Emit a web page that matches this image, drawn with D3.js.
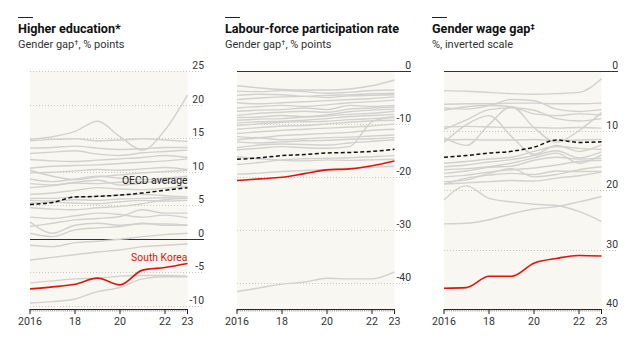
<!DOCTYPE html>
<html><head><meta charset="utf-8">
<script src="https://cdn.jsdelivr.net/npm/d3@7"></script>
<style>
body{margin:0;background:#fff}
svg{display:block;font-family:Roboto,"Noto Sans",sans-serif}
</style>
</head><body>
<svg id="chart" width="640" height="345"></svg>
<script>
// ---------------- DATA ----------------
const years = [2016, 2017, 2018, 2019, 2020, 2021, 2022, 2023];
const xTickYears = [2016, 2018, 2020, 2022, 2023];
const xTickLabels = ["2016", "18", "20", "22", "23"];

const titles = ["Higher education*", "Labour-force participation rate", "Gender wage gap"];
const subtitles = ["Gender gap", "Gender gap", "%, inverted scale"];

// Panel 1: Higher education, gender gap, % points
const eduTicks = [25, 20, 15, 10, 5, 0, -5, -10];
const eduKorea = [-7.5, -7.2, -6.8, -5.9, -6.9, -4.7, -4.3, -3.7];
const eduOecd = [5.1, 5.4, 6.2, 6.3, 6.5, 6.8, 7.2, 7.6];
const eduGrey = [
  [14.8, 15.2, 16.0, 17.5, 15.2, 13.2, 16.2, 21.4],
  [14.6, 14.8, 14.9, 14.6, 14.7, 14.9, 14.7, 14.5],
  [13.5, 13.6, 13.8, 13.5, 13.3, 13.4, 13.6, 13.6],
  [12.7, 12.9, 13.1, 12.6, 12.4, 12.8, 13.0, 13.2],
  [11.8, 11.6, 11.5, 11.7, 11.9, 12.1, 12.4, 12.1],
  [10.5, 10.8, 10.9, 11.0, 11.2, 11.4, 11.6, 11.9],
  [9.8, 9.9, 10.1, 10.3, 10.2, 10.4, 10.6, 10.3],
  [10.2, 9.3, 8.8, 9.2, 9.5, 9.8, 10.0, 10.2],
  [8.9, 8.5, 8.9, 9.3, 9.0, 8.8, 9.0, 9.3],
  [8.2, 8.0, 8.3, 8.2, 8.4, 8.5, 8.4, 8.3],
  [7.6, 7.9, 8.4, 8.7, 8.0, 8.3, 8.9, 9.0],
  [6.6, 6.8, 7.2, 7.6, 7.4, 7.3, 7.5, 7.8],
  [6.0, 6.0, 6.2, 6.3, 6.5, 6.6, 6.4, 6.2],
  [5.7, 5.6, 5.8, 5.7, 5.9, 6.0, 6.1, 6.0],
  [5.3, 5.4, 5.3, 5.2, 5.5, 5.7, 5.6, 5.7],
  [4.6, 4.4, 4.3, 4.6, 4.8, 5.2, 5.8, 6.0],
  [3.2, 3.0, 3.4, 3.8, 3.6, 3.2, 3.5, 3.1],
  [2.5, 0.8, 2.0, 2.3, 2.0, 2.2, 2.2, 2.0],
  [1.8, 2.3, 2.8, 3.0, 3.3, 4.3, 3.8, 3.8],
  [0.8, 0.3, 1.3, 1.6, 1.8, 2.3, 2.0, 2.0],
  [-1.0, -1.2, -0.6, -0.4, -0.1, 0.3, 0.6, 0.8],
  [-3.2, -2.8, -2.4, -2.0, -1.7, -1.2, -1.0, -0.8],
  [-6.6, -6.3, -6.0, -5.9, -5.6, -5.5, -5.5, -5.6],
  [-9.6, -9.4, -9.0, -7.9, -7.3, -6.0, -5.7, -5.7]
];

// Panel 2: Labour-force participation rate, gender gap, % points
const labTicks = [0, -10, -20, -30, -40];
const labKorea = [-20.7, -20.4, -20.1, -19.4, -18.7, -18.5, -17.9, -17.0];
const labOecd = [-16.7, -16.4, -16.0, -15.8, -15.5, -15.4, -15.2, -14.8];
const labGrey = [
  [-2.8, -3.2, -3.5, -3.6, -3.6, -3.4, -2.8, -1.7],
  [-3.8, -3.9, -3.7, -3.9, -4.2, -4.0, -3.7, -3.6],
  [-4.6, -4.4, -4.5, -4.8, -4.6, -4.5, -4.3, -4.2],
  [-5.4, -5.1, -4.9, -4.8, -5.0, -4.7, -4.6, -4.5],
  [-6.0, -6.2, -6.0, -5.8, -5.6, -5.4, -5.2, -4.9],
  [-7.0, -6.7, -6.5, -6.7, -6.4, -6.0, -5.8, -5.5],
  [-7.6, -7.4, -7.3, -7.0, -7.3, -6.5, -6.7, -6.5],
  [-8.4, -8.0, -7.8, -7.6, -7.8, -7.2, -7.0, -6.8],
  [-8.8, -8.7, -8.4, -8.6, -8.3, -7.7, -7.4, -7.2],
  [-9.3, -9.1, -9.0, -8.7, -8.5, -8.2, -8.0, -7.6],
  [-9.8, -9.6, -9.5, -9.3, -9.0, -8.6, -8.4, -8.2],
  [-10.3, -10.0, -9.7, -9.6, -9.5, -9.2, -9.0, -8.8],
  [-11.0, -10.7, -10.4, -10.3, -10.0, -9.7, -9.4, -9.3],
  [-11.8, -11.5, -11.2, -11.0, -10.8, -10.6, -10.4, -10.0],
  [-12.4, -12.6, -12.2, -12.0, -11.8, -11.6, -11.2, -11.0],
  [-13.0, -12.7, -13.0, -12.8, -12.6, -12.5, -12.3, -12.1],
  [-13.4, -13.6, -13.4, -13.2, -13.1, -12.9, -12.8, -12.6],
  [-14.9, -14.6, -14.3, -14.5, -14.6, -14.3, -9.6, -8.6],
  [-14.5, -14.0, -13.8, -13.9, -14.0, -13.6, -13.3, -13.0],
  [-16.2, -16.6, -16.9, -17.0, -16.8, -16.9, -16.8, -16.7],
  [-17.7, -17.3, -16.8, -16.6, -16.5, -16.4, -16.2, -16.0],
  [-19.5, -19.3, -19.0, -18.8, -18.6, -18.4, -18.2, -18.0],
  [-41.7, -41.0, -40.3, -39.9, -39.2, -39.3, -39.3, -38.0]
];

// Panel 3: Gender wage gap, %, inverted scale
const wageTicks = [0, 10, 20, 30, 40];
const wageKorea = [36.5, 36.4, 34.5, 34.5, 32.3, 31.5, 31.0, 31.1];
const wageOecd = [14.5, 14.2, 13.8, 13.5, 12.8, 11.6, 12.0, 11.9];
const wageGrey = [
  [3.3, 3.4, 3.6, 3.8, 3.9, 3.8, 3.6, 1.3],
  [5.6, 5.5, 5.5, 5.4, 5.4, 5.5, 5.5, 5.4],
  [6.2, 6.4, 5.8, 4.8, 5.0, 6.4, 6.8, 6.5],
  [6.6, 6.0, 5.8, 6.0, 7.2, 7.5, 7.2, 7.4],
  [9.4, 9.3, 9.4, 9.5, 9.5, 9.6, 9.5, 9.6],
  [9.8, 8.2, 6.5, 6.2, 6.6, 8.0, 8.4, 8.0],
  [11.6, 11.5, 11.6, 11.6, 11.5, 11.7, 11.6, 11.5],
  [11.2, 12.5, 9.0, 6.0, 9.5, 12.0, 10.0, 7.0],
  [12.0, 9.0, 7.5, 11.0, 14.0, 12.5, 13.5, 12.4],
  [15.5, 15.2, 14.8, 14.5, 13.5, 12.7, 13.0, 13.2],
  [16.1, 15.8, 15.3, 14.9, 14.2, 13.4, 14.6, 13.6],
  [16.6, 16.4, 16.1, 15.5, 14.6, 13.8, 15.5, 14.1],
  [17.2, 16.8, 16.2, 16.0, 15.0, 14.5, 14.8, 14.6],
  [17.8, 17.5, 17.0, 16.6, 16.3, 15.8, 15.2, 15.0],
  [18.6, 18.3, 17.2, 16.4, 17.8, 17.4, 16.6, 16.1],
  [19.0, 18.0, 17.5, 17.2, 17.4, 16.8, 16.9, 16.9],
  [19.0, 18.8, 18.6, 18.4, 18.5, 18.0, 17.6, 17.0],
  [21.7, 19.3, 21.4, 22.0, 22.4, 22.6, 23.6, 25.3],
  [25.7, 25.6, 25.0, 24.0, 23.2, 22.8, 22.0, 21.1]
];

// ---------------- DRAW ----------------
const panels = [
  {title: titles[0], sub: subtitles[0], dagger: "", subDagger: true,
   domain: [25, -10.5], ticks: eduTicks, zero: 0, grey: eduGrey, korea: eduKorea, oecd: eduOecd, labels: true},
  {title: titles[1], sub: subtitles[1], dagger: "", subDagger: true,
   domain: [0, -45], ticks: labTicks, zero: 0, grey: labGrey, korea: labKorea, oecd: labOecd, labels: false},
  {title: titles[2], sub: subtitles[2], dagger: "‡", subDagger: false,
   domain: [0, 40], ticks: wageTicks, zero: 0, grey: wageGrey, korea: wageKorea, oecd: wageOecd, labels: false}
];

const svg = d3.select("#chart");
const plotTop = 71, plotBottom = 309, plotW = 157.5, gridW = 174, step = 207;

panels.forEach((p, i) => {
  const x0 = 30 + step * i;
  const g = svg.append("g");
  const x = d3.scaleLinear().domain([2016, 2023]).range([x0, x0 + plotW]);
  const y = d3.scaleLinear().domain(p.domain).range([plotTop, plotBottom]);

  // header
  g.append("line").attr("x1", x0 - 12).attr("x2", x0 + 3).attr("y1", 17.5).attr("y2", 17.5)
    .attr("stroke", "#222").attr("stroke-width", 1);
  const t = g.append("text").attr("x", x0 - 12).attr("y", 33).attr("font-size", 12.6)
    .attr("font-weight", 700).attr("fill", "#111").text(p.title);
  if (p.dagger) t.append("tspan").attr("font-size", 8).attr("dy", -4.5).text(p.dagger);
  const s = g.append("text").attr("x", x0 - 12).attr("y", 48).attr("font-size", 11)
    .attr("fill", "#333").text(p.sub);
  if (p.subDagger) {
    s.append("tspan").attr("font-size", 7.5).attr("dy", -3.5).text("†");
    s.append("tspan").attr("dy", 3.5).text(", % points");
  }

  // background
  g.append("rect").attr("x", x0).attr("y", plotTop).attr("width", plotW).attr("height", plotBottom - plotTop)
    .attr("fill", "#f9f7f1");

  // gridlines + labels
  p.ticks.forEach(v => {
    const yy = Math.round(y(v)) + 0.5;
    const isZero = v === p.zero;
    g.append("line").attr("x1", x0).attr("x2", x0 + gridW).attr("y1", yy).attr("y2", yy)
      .attr("stroke", isZero ? "#333" : "#c9c9c4")
      .attr("stroke-width", 1)
      .attr("stroke-dasharray", isZero ? null : "1,2");
    g.append("text").attr("x", x0 + gridW).attr("y", yy - 2.5).attr("text-anchor", "end")
      .attr("font-size", 10.4).attr("fill", "#333").text(String(v));
  });

  // lines
  const line = d3.line().x((d, k) => x(years[k])).y(d => y(d)).curve(d3.curveMonotoneX);
  g.selectAll(".grey").data(p.grey).enter().append("path")
    .attr("d", line).attr("fill", "none").attr("stroke", "#d1d1cf").attr("stroke-width", 1.4);
  g.append("path").attr("d", line(p.oecd)).attr("fill", "none").attr("stroke", "#111")
    .attr("stroke-width", 1.5).attr("stroke-dasharray", "4,2.5");
  g.append("path").attr("d", line(p.korea)).attr("fill", "none").attr("stroke", "#e3120b")
    .attr("stroke-width", 1.6);

  if (p.labels) {
    g.append("text").attr("x", x0 + plotW).attr("y", 184).attr("text-anchor", "end")
      .attr("font-size", 10.4).attr("fill", "#222").text("OECD average");
    g.append("text").attr("x", x0 + plotW).attr("y", 261).attr("text-anchor", "end")
      .attr("font-size", 10.4).attr("fill", "#e3120b").text("South Korea");
  }

  // x axis
  const ax = g.append("g").attr("transform", `translate(0,${plotBottom})`);
  ax.append("line").attr("x1", x0).attr("x2", x0 + plotW).attr("y1", 0.5).attr("y2", 0.5)
    .attr("stroke", "#222").attr("stroke-width", 1);
  const months = d3.range(0, 85).map(m => 2016 + m / 12);
  ax.selectAll(".mt").data(months).enter().append("line")
    .attr("x1", d => x(d)).attr("x2", d => x(d)).attr("y1", 0.5).attr("y2", 2.5)
    .attr("stroke", "#555").attr("stroke-width", 0.5);
  ax.selectAll(".Mt").data(xTickYears).enter().append("line")
    .attr("x1", d => x(d)).attr("x2", d => x(d)).attr("y1", 0).attr("y2", 5)
    .attr("stroke", "#222").attr("stroke-width", 1);
  ax.selectAll(".tl").data(xTickYears).enter().append("text")
    .attr("x", d => x(d)).attr("y", 15.5).attr("text-anchor", "middle")
    .attr("font-size", 10.6).attr("fill", "#333").text((d, k) => xTickLabels[k]);
});
</script>
</body></html>
